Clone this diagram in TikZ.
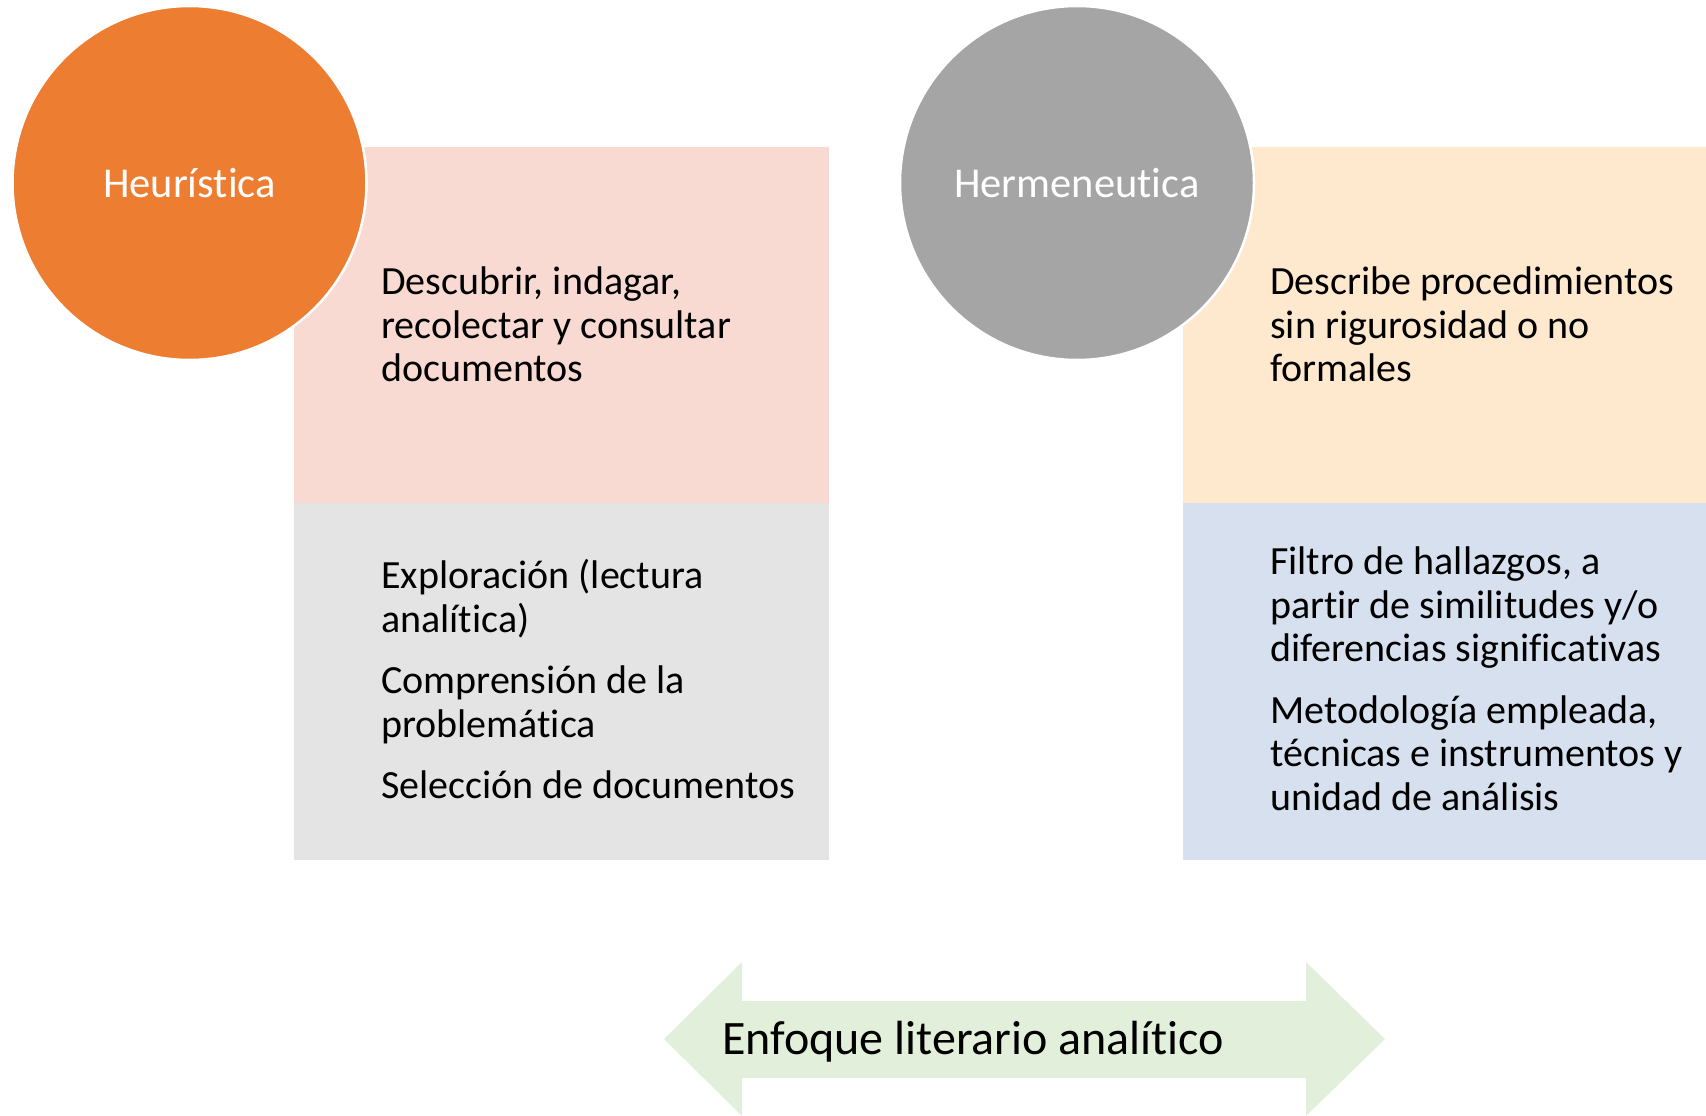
\documentclass[tikz,border=0pt]{standalone}
\usepackage{fontspec}
\setmainfont{Carlito}[Ligatures=NoCommon]
\definecolor{heurorange}{HTML}{ED7D31}
\definecolor{hermgray}{HTML}{A5A5A5}
\definecolor{pinkbox}{HTML}{F8DAD2}
\definecolor{graybox}{HTML}{E4E4E4}
\definecolor{creambox}{HTML}{FEE8CE}
\definecolor{bluebox}{HTML}{D6E0EE}
\definecolor{arrowgreen}{HTML}{E2EFDA}
\tikzset{
  panel/.style={rectangle, anchor=north west, inner sep=0pt, draw=none},
  lpanel/.style={panel, minimum width=535, minimum height=357},
  rpanel/.style={panel, minimum width=523, minimum height=357},
  topic/.style={circle, minimum size=354, inner sep=0pt, draw=white,
    line width=2.5pt, text=white, font=\fontsize{42.5}{50}\selectfont},
  itemtext/.style={anchor=west, align=left, inner sep=0pt,
    font=\fontsize{40}{43.5}\selectfont}
}
\begin{document}
\begin{tikzpicture}[x=1pt, y=-1pt]
      \useasboundingbox (0,0) rectangle (1706,1116);
      % panels
      \draw
        (294,147) node[lpanel, fill=pinkbox] (p1){}
        (294,503) node[lpanel, fill=graybox] (p2){}
        (1183,147) node[rpanel, fill=creambox] (p3){}
        (1183,503) node[rpanel, fill=bluebox] (p4){};
      % topics
      \draw
        (189.5,183) node[topic, fill=heurorange] (h){Heurística}
        (1077,183) node[topic, fill=hermgray] (m){Hermeneutica};
      % panel texts
      \begin{scope}[itemtext]
        \node (t1) at (381,324.5) {Descubrir, indagar,\\recolectar y consultar\\documentos};
        \node (t2) at (381,679.5) {Exploración (lectura\\analítica)\\[18pt]Comprensión de la\\problemática\\[18pt]Selección de documentos};
        \node (t3) at (1270,324.5) {Describe procedimientos\\sin rigurosidad o no\\formales};
        \node (t4) at (1270,679) {Filtro de hallazgos, a\\partir de similitudes y/o\\diferencias significativas\\[18pt]Metodología empleada,\\técnicas e instrumentos y\\unidad de análisis};
      \end{scope}
      % double arrow
      \fill[arrowgreen] (664,1039) -- (742,962) -- (742,1001) -- (1306,1001)
        -- (1306,962) -- (1385,1039) -- (1306,1116) -- (1306,1078)
        -- (742,1078) -- (742,1116) -- cycle;
      \node[anchor=west, inner sep=0pt, font=\fontsize{48}{56}\selectfont]
        (e) at (722,1042) {Enfoque literario analítico};
    \end{tikzpicture}
\end{document}
